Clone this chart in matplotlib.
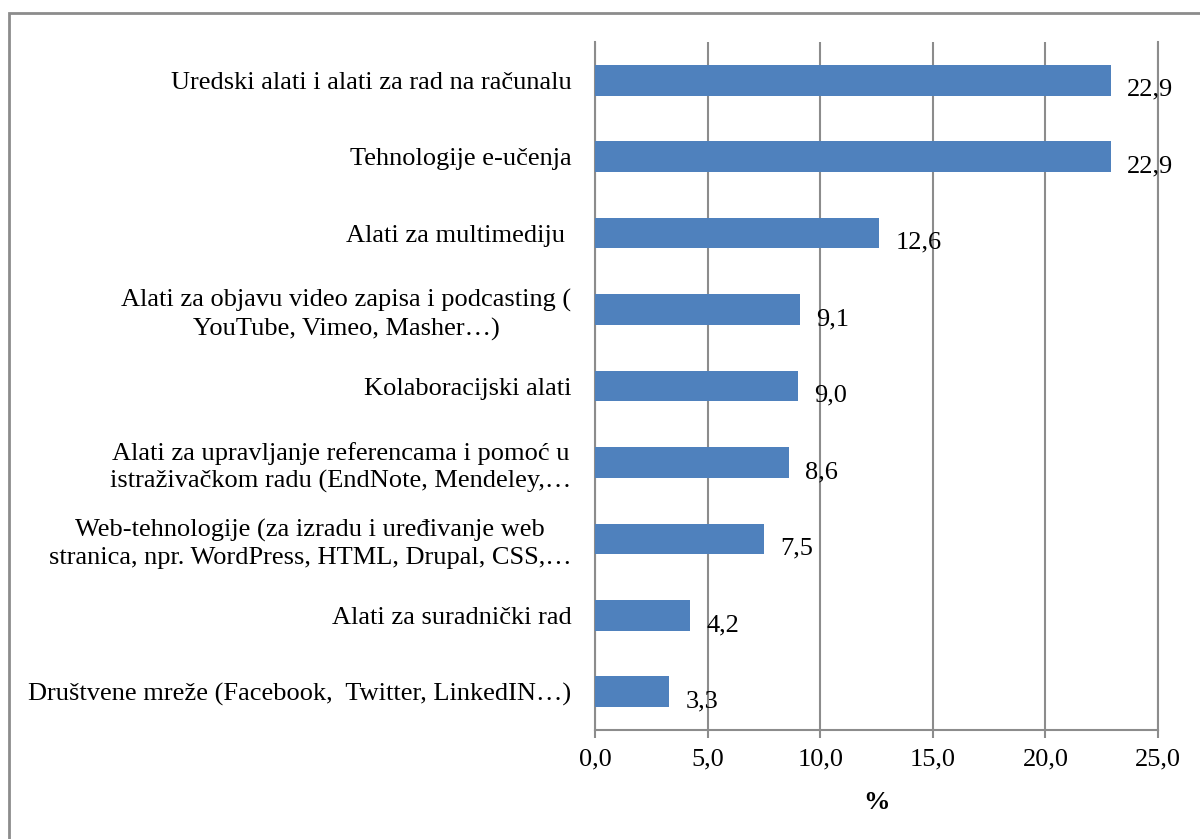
import matplotlib.pyplot as plt
from matplotlib.patches import Rectangle
from matplotlib.ticker import FuncFormatter

plt.rcParams['font.family'] = ['Liberation Serif', 'DejaVu Serif']

# categories listed bottom to top
categories = [
    "Društvene mreže (Facebook,  Twitter, LinkedIN…)",
    "Alati za suradnički rad",
    "Web-tehnologije (za izradu i uređivanje web\nstranica, npr. WordPress, HTML, Drupal, CSS,…",
    "Alati za upravljanje referencama i pomoć u\nistraživačkom radu (EndNote, Mendeley,…",
    "Kolaboracijski alati",
    "Alati za objavu video zapisa i podcasting (\nYouTube, Vimeo, Masher…)",
    "Alati za multimediju ",
    "Tehnologije e-učenja",
    "Uredski alati i alati za rad na računalu",
]
values = [3.3, 4.2, 7.5, 8.6, 9.0, 9.1, 12.6, 22.9, 22.9]
xticks = [0, 5, 10, 15, 20, 25]

bar_color = '#4F81BD'
grid_color = '#8C8C8C'
fs = 19

fig = plt.figure(figsize=(12, 8.39), dpi=100)
ax = fig.add_axes([595 / 1200, 1 - 730 / 839, (1158 - 595) / 1200, (730 - 42) / 839])

ypos = list(range(len(categories)))
bars = ax.barh(ypos, values, height=0.4, color=bar_color, zorder=3)

for y, v in zip(ypos, values):
    ax.annotate(f"{v:.1f}".replace('.', ','), xy=(v, y), xytext=(12, -7),
                textcoords='offset points', ha='left', va='center', fontsize=fs, zorder=4)

ax.set_xlim(0, 25)
ax.set_ylim(-0.5, len(categories) - 0.5)
ax.set_xticks(xticks)
ax.xaxis.set_major_formatter(FuncFormatter(lambda x, p: f"{x:.1f}".replace('.', ',')))
ax.set_yticks(ypos)
ax.set_yticklabels(categories, fontsize=fs, multialignment='center', linespacing=1.3)
ax.tick_params(axis='y', length=0, pad=17)
ax.tick_params(axis='x', length=6, width=1.5, color=grid_color, labelsize=fs, pad=7)

ax.grid(axis='x', color=grid_color, linewidth=1.5, zorder=0)
ax.spines['top'].set_visible(False)
for s in ['bottom', 'left', 'right']:
    ax.spines[s].set_color(grid_color)
    ax.spines[s].set_linewidth(1.5)

ax.set_xlabel('%', fontsize=fs, fontweight='bold', labelpad=15)

# chart frame around the whole figure
fig.patches.append(Rectangle((9 / 1200, -0.1), 1.2, 1 - 13 / 839 + 0.1,
                             transform=fig.transFigure, fill=False,
                             edgecolor='#8C8C8C', linewidth=2))

fig.savefig('out.png', dpi=100)
